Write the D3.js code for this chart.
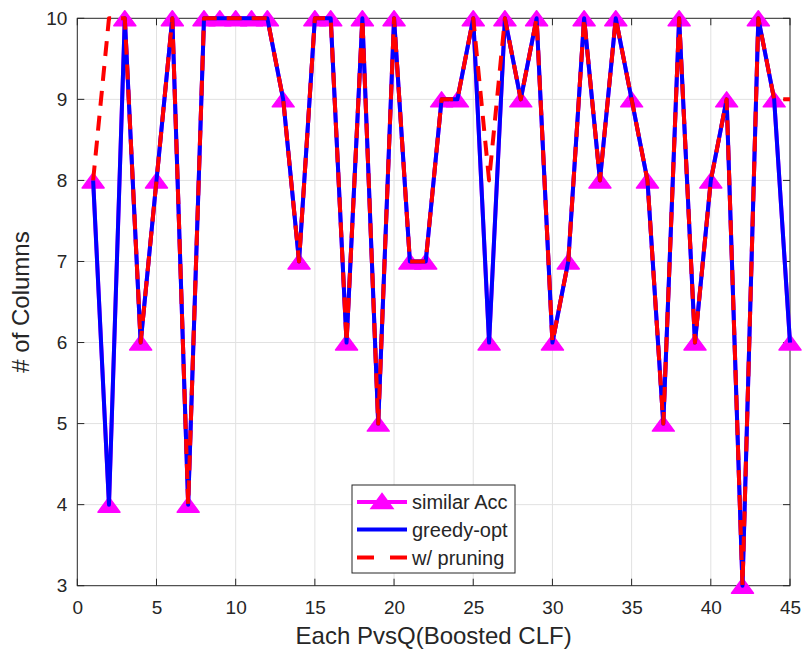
<!DOCTYPE html>
<html>
<head>
<meta charset="utf-8">
<script src="https://cdn.jsdelivr.net/npm/d3@7"></script>
<style>
  html, body { margin: 0; padding: 0; background: #fff; }
  svg { display: block; font-family: "Liberation Sans", Arial, sans-serif; }
</style>
</head>
<body>
<svg id="chart" width="805" height="657"></svg>
<script>
// ---- data ----
const classifiers = d3.range(1, 46);
const similarAcc = [8,4,10,6,8,10,4,10,10,10,10,10,9,7,10,10,6,10,5,10,7,7,9,9,10,6,10,9,10,6,7,10,8,10,9,8,5,10,6,8,9,3,10,9,6];
const greedyOpt  = [8,4,10,6,8,10,4,10,10,10,10,10,9,7,10,10,6,10,5,10,7,7,9,9,10,6,10,9,10,6,7,10,8,10,9,8,5,10,6,8,9,3,10,9,6];
const withPruning= [8,10,10,6,8,10,4,10,10,10,10,10,9,7,10,10,6,10,5,10,7,7,9,9,10,8,10,9,10,6,7,10,8,10,9,8,5,10,6,8,9,3,10,9,9];
const xTicks = [0,5,10,15,20,25,30,35,40,45];
const yTicks = [3,4,5,6,7,8,9,10];
const seriesNames = ["similar Acc", "greedy-opt", "w/ pruning"];
const xLabel = "Each PvsQ(Boosted CLF)";
const yLabel = "# of Columns";

// ---- layout ----
const svg = d3.select("#chart");
const L = 77.3, R = 790, T = 18.3, B = 585.7;
const x = d3.scaleLinear().domain([0,45]).range([L,R]);
const y = d3.scaleLinear().domain([3,10]).range([B,T]);
const axisColor = "#262626";
const tickLen = 7;

// grid
const grid = svg.append("g");
grid.selectAll(".gx").data(xTicks.slice(1,-1)).join("line")
  .attr("x1", d=>x(d)).attr("x2", d=>x(d)).attr("y1", T).attr("y2", B)
  .attr("stroke", "#e1e1e1").attr("stroke-width", 1);
grid.selectAll(".gy").data(yTicks.slice(1,-1)).join("line")
  .attr("x1", L).attr("x2", R).attr("y1", d=>y(d)).attr("y2", d=>y(d))
  .attr("stroke", "#e1e1e1").attr("stroke-width", 1);

// axes labels via d3 axis
const xAxis = svg.append("g").attr("transform", `translate(0,${B})`)
  .call(d3.axisBottom(x).tickValues(xTicks).tickSize(0).tickPadding(15).tickFormat(d3.format("d")));
xAxis.select(".domain").remove();
xAxis.selectAll("text").attr("font-size", 19).attr("fill", axisColor)
  .attr("font-family", "Liberation Sans, Arial, sans-serif").attr("dy", "0.71em");

const yAxis = svg.append("g").attr("transform", `translate(${L},0)`)
  .call(d3.axisLeft(y).tickValues(yTicks).tickSize(0).tickPadding(10).tickFormat(d3.format("d")));
yAxis.select(".domain").remove();
yAxis.selectAll("text").attr("font-size", 19).attr("fill", axisColor)
  .attr("font-family", "Liberation Sans, Arial, sans-serif");

// inward ticks on all four sides
const ticks = svg.append("g").attr("stroke", axisColor).attr("stroke-width", 1);
ticks.selectAll(".tb").data(xTicks).join("line")
  .attr("x1", d=>x(d)).attr("x2", d=>x(d)).attr("y1", B).attr("y2", B-tickLen);
ticks.selectAll(".tt").data(xTicks).join("line")
  .attr("x1", d=>x(d)).attr("x2", d=>x(d)).attr("y1", T).attr("y2", T+tickLen);
ticks.selectAll(".tl").data(yTicks).join("line")
  .attr("x1", L).attr("x2", L+tickLen).attr("y1", d=>y(d)).attr("y2", d=>y(d));
ticks.selectAll(".tr").data(yTicks).join("line")
  .attr("x1", R).attr("x2", R-tickLen).attr("y1", d=>y(d)).attr("y2", d=>y(d));

// box
svg.append("rect").attr("x", L).attr("y", T).attr("width", R-L).attr("height", B-T)
  .attr("fill", "none").attr("stroke", axisColor).attr("stroke-width", 1);

// axis titles
svg.append("text").attr("x", (L+R)/2).attr("y", 644).attr("text-anchor", "middle")
  .attr("font-size", 24).attr("fill", axisColor).text(xLabel);
svg.append("text").attr("transform", `translate(29,${(T+B)/2}) rotate(-90)`)
  .attr("text-anchor", "middle").attr("font-size", 24).attr("fill", axisColor).text(yLabel);

// ---- series ----
const line = d3.line().x(d=>x(d[0])).y(d=>y(d[1]));
const tri = (cx, cy) => {
  // triangle: width ~22, height ~15, centered on point
  const w = 11, h = 7.5;
  return `M${cx},${cy-h}L${cx+w},${cy+h}L${cx-w},${cy+h}Z`;
};
const plot = svg.append("g");

const magentaData = classifiers.map((c,i)=>[c, similarAcc[i]]);
const blueData = classifiers.map((c,i)=>[c, greedyOpt[i]]);
const redData = classifiers.map((c,i)=>[c, withPruning[i]]);

plot.append("path").datum(magentaData).attr("d", line)
  .attr("fill", "none").attr("stroke", "#ff00ff").attr("stroke-width", 4).attr("stroke-linejoin", "round");
plot.selectAll(".tri").data(magentaData).join("path")
  .attr("d", d=>tri(x(d[0]), y(d[1])))
  .attr("fill", "#ff00ff").attr("stroke", "#ff00ff").attr("stroke-width", 1.5).attr("stroke-linejoin", "round");

plot.append("path").datum(blueData).attr("d", line)
  .attr("fill", "none").attr("stroke", "#0000ff").attr("stroke-width", 4).attr("stroke-linejoin", "round");
plot.append("path").datum(redData).attr("d", line)
  .attr("fill", "none").attr("stroke", "#ff0000").attr("stroke-width", 4)
  .attr("stroke-dasharray", "15,10").attr("stroke-linejoin", "round");

// ---- legend ----
const lg = svg.append("g");
const lx = 352, ly = 485, lw = 163, lh = 88;
lg.append("rect").attr("x", lx).attr("y", ly).attr("width", lw).attr("height", lh)
  .attr("fill", "#fff").attr("stroke", axisColor).attr("stroke-width", 1);
const rows = [502, 529.5, 557.5];
const sx0 = 357, sx1 = 407;
// similar Acc
lg.append("line").attr("x1", sx0).attr("x2", sx1).attr("y1", rows[0]).attr("y2", rows[0])
  .attr("stroke", "#ff00ff").attr("stroke-width", 4);
lg.append("path").attr("d", tri((sx0+sx1)/2, rows[0]-1))
  .attr("fill", "#ff00ff").attr("stroke", "#ff00ff").attr("stroke-width", 1.5);
// greedy-opt
lg.append("line").attr("x1", sx0).attr("x2", sx1).attr("y1", rows[1]).attr("y2", rows[1])
  .attr("stroke", "#0000ff").attr("stroke-width", 4);
// w/ pruning
lg.append("line").attr("x1", sx0).attr("x2", sx1).attr("y1", rows[2]).attr("y2", rows[2])
  .attr("stroke", "#ff0000").attr("stroke-width", 4).attr("stroke-dasharray", "17,16");
lg.selectAll(".lt").data(seriesNames).join("text")
  .attr("x", 412).attr("y", (d,i)=>rows[i]).attr("dy", "0.35em")
  .attr("font-size", 20).attr("fill", axisColor).text(d=>d);
</script>
</body>
</html>
